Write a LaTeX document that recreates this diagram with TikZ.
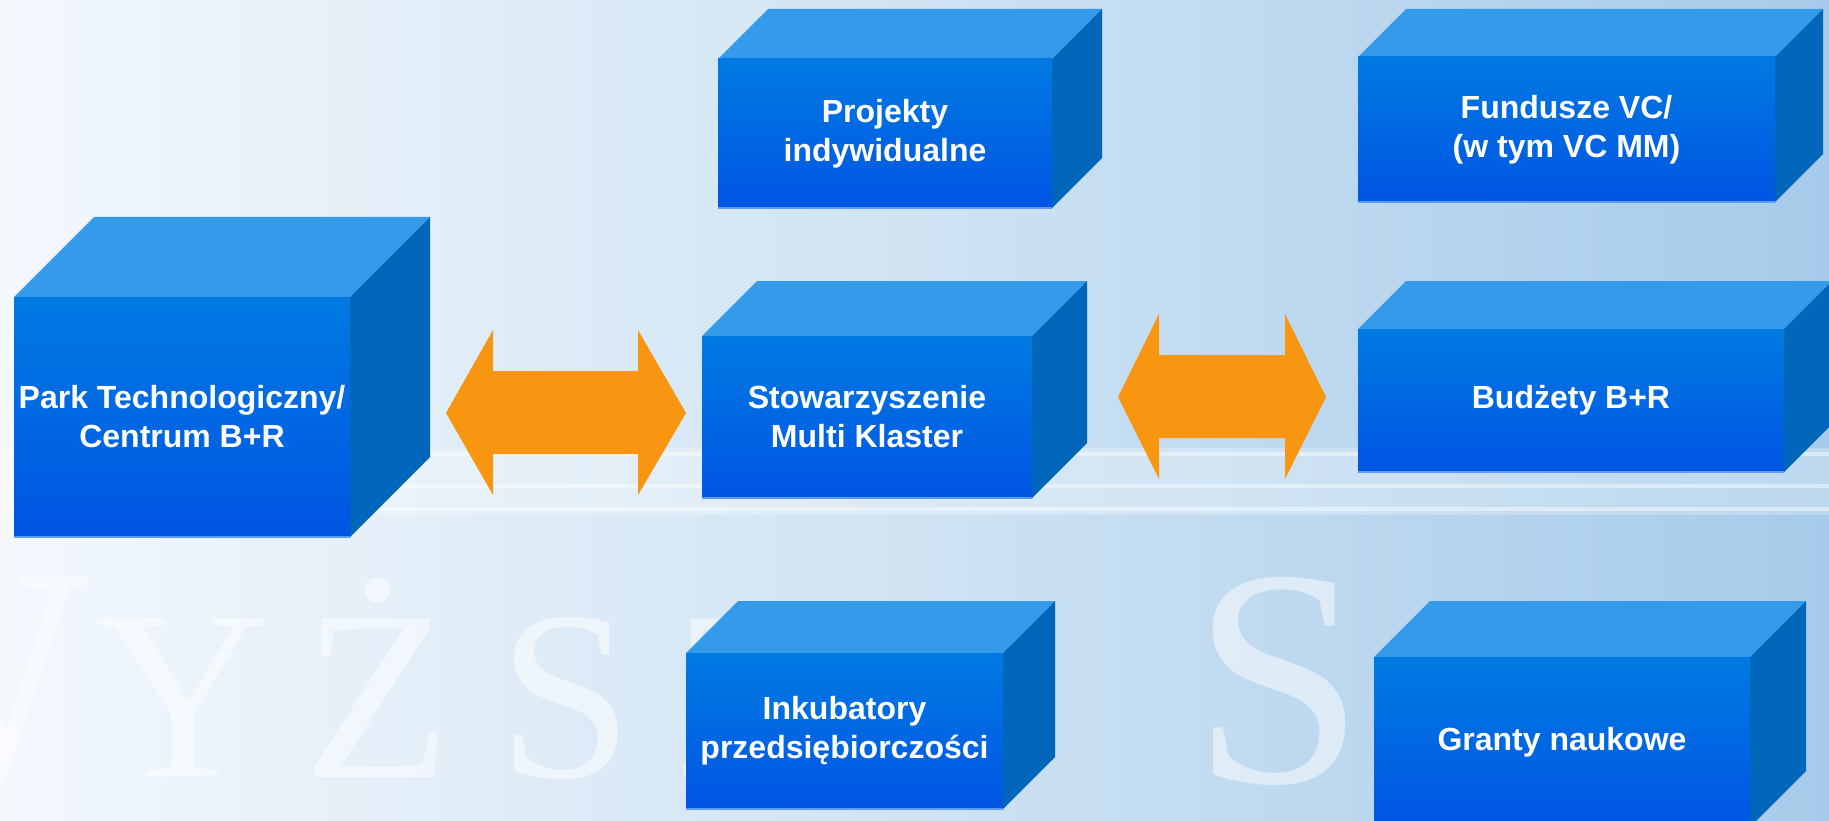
\documentclass[tikz,border=0pt]{standalone}
\usepackage{fontspec}
\setmainfont{Liberation Sans}
\newfontfamily\wmfont{Liberation Serif}
\definecolor{bgL}{HTML}{F3F8FD}
\definecolor{bgM}{HTML}{CFE3F3}
\definecolor{bgR}{HTML}{A6CBEA}
\definecolor{topface}{HTML}{349AEA}
\definecolor{sideface}{HTML}{0066B9}
\definecolor{frontT}{HTML}{007AE2}
\definecolor{frontB}{HTML}{0055E3}
\definecolor{frontEdge}{HTML}{5B9CF0}
\definecolor{arroworange}{HTML}{F89612}
\newcommand\cubebox[7]{%
  \fill[topface] (#2,#3) -- (#2+#6,#3-#6) -- (#4+#6,#3-#6) -- (#4,#3) -- cycle;
  \fill[sideface] (#4,#3) -- (#4+#6,#3-#6) -- (#4+#6,#5-#6) -- (#4,#5) -- cycle;
  \node[frontface, minimum width={(#4-#2)*1pt}, minimum height={(#5-#3)*1pt}]
    (#1) at ({(#2+#4)/2},{(#3+#5)/2}) {#7};
  \draw[frontEdge, line width=1.5pt] (#1.south west) -- (#1.south east);
}
\begin{document}
\begin{tikzpicture}[x=1pt,y=-1pt,
  frontface/.style={rectangle, inner sep=0pt, top color=frontT, bottom color=frontB,
    text=white, font=\bfseries\fontsize{32}{39}\selectfont, align=center},
  wmark/.style={inner sep=0pt, text=white, text opacity=0.5},
  blockarrow/.style={fill=arroworange}]
\useasboundingbox (0,0) rectangle (1829,821);
% background
\shade[left color=bgL, right color=bgR, middle color=bgM] (0,0) rectangle (1829,821);
\fill[white, opacity=0.25] (0,448) rectangle (1829,515);
\foreach \yy in {452,484,507}{\fill[white, opacity=0.45] (0,\yy) rectangle (1829,\yy+4);}
% watermark letters
\node[wmark, anchor=base east, font=\wmfont\fontsize{310}{310}\selectfont] (wmW) at (88,780) {W};
\node[wmark, anchor=base west, font=\wmfont\fontsize{242}{242}\selectfont] (wmY) at (95,777) {Y};
\node[wmark, anchor=base west, font=\wmfont\fontsize{242}{242}\selectfont] (wmZd) at (303,777) {Ż};
\node[wmark, anchor=base west, font=\wmfont\fontsize{242}{242}\selectfont] (wmS) at (498,777) {S};
\node[wmark, anchor=base west, font=\wmfont\fontsize{242}{242}\selectfont] (wmZ) at (672,777) {Z};
\node[wmark, anchor=base west, font=\wmfont\fontsize{310}{310}\selectfont] (wmS2) at (1192,782) {S};
% boxes
\cubebox{park}{14}{297}{350}{537}{80}{Park Technologiczny/\\Centrum B+R}
\cubebox{projekty}{718}{59}{1052}{208}{50}{Projekty\\indywidualne}
\cubebox{fundusze}{1358}{57}{1775}{202}{48}{Fundusze VC/\\(w tym VC MM)}
\cubebox{budzety}{1358}{329}{1784}{472}{48}{Budżety B+R}
\cubebox{stow}{702}{336}{1032}{498}{55}{Stowarzyszenie\\Multi Klaster}
\cubebox{inkub}{686}{653}{1003}{809}{52}{Inkubatory\\przedsiębiorczości}
\cubebox{granty}{1374}{657}{1750}{827}{56}{Granty naukowe}
% double block arrows
\coordinate (a1l) at (446,413);
\coordinate (a1r) at (686,413);
\fill[blockarrow] (a1l) -- (493,330) -- (493,371) -- (638,371) -- (638,330) -- (a1r)
  -- (638,495) -- (638,454) -- (493,454) -- (493,495) -- cycle;
\coordinate (a2l) at (1118,397);
\coordinate (a2r) at (1326,397);
\fill[blockarrow] (a2l) -- (1159,314) -- (1159,355) -- (1285,355) -- (1285,314) -- (a2r)
  -- (1285,479) -- (1285,438) -- (1159,438) -- (1159,479) -- cycle;
\end{tikzpicture}
\end{document}
